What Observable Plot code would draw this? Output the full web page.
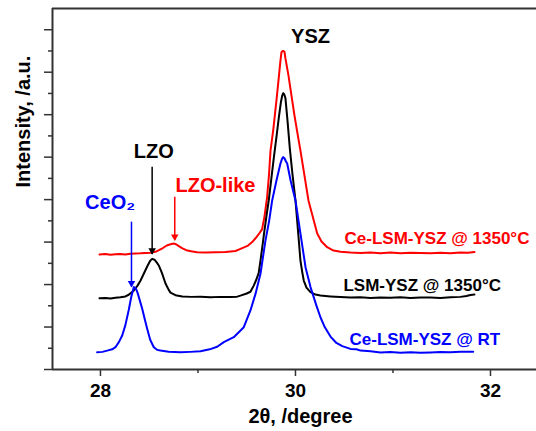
<!DOCTYPE html>
<html>
<head>
<meta charset="utf-8">
<style>
  html, body { margin: 0; padding: 0; background: #fff; }
</style>
<script src="https://cdn.jsdelivr.net/npm/d3@7"></script>
<script src="https://cdn.jsdelivr.net/npm/@observablehq/plot@0.6"></script>
</head>
<body>
<div id="chart"></div>
<script>
// ---- Data (2θ in degrees, intensity in arbitrary units) ----
const seriesNames = ["Ce-LSM-YSZ @ 1350°C", "LSM-YSZ @ 1350°C", "Ce-LSM-YSZ @ RT"];

const ce1350X = [27.990, 28.050, 28.103, 28.154, 28.205, 28.256, 28.308, 28.359, 28.410, 28.462, 28.513, 28.564, 28.600, 28.640, 28.680, 28.718, 28.749, 28.775, 28.800, 28.841, 28.880, 28.930, 28.990, 29.077, 29.179, 29.282, 29.385, 29.436, 29.508, 29.556, 29.590, 29.621, 29.657, 29.682, 29.709, 29.728, 29.744, 29.774, 29.805, 29.831, 29.846, 29.856, 29.864, 29.872, 29.887, 29.897, 29.928, 29.959, 29.990, 30.021, 30.051, 30.092, 30.133, 30.174, 30.223, 30.267, 30.325, 30.390, 30.462, 30.564, 30.667, 30.769, 30.872, 30.974, 31.077, 31.179, 31.282, 31.385, 31.487, 31.590, 31.692, 31.770, 31.836];
const ce1350Y = [5.42, 5.44, 5.40, 5.43, 5.44, 5.42, 5.45, 5.46, 5.47, 5.49, 5.50, 5.54, 5.62, 5.72, 5.84, 5.90, 5.93, 5.90, 5.82, 5.70, 5.62, 5.57, 5.52, 5.51, 5.52, 5.53, 5.58, 5.68, 5.82, 6.00, 6.18, 6.36, 6.60, 7.20, 8.11, 9.14, 10.31, 11.35, 12.67, 13.85, 14.55, 14.93, 14.98, 15.00, 14.97, 14.65, 13.85, 12.90, 11.96, 11.11, 10.31, 9.14, 7.96, 7.25, 6.40, 6.03, 5.76, 5.60, 5.55, 5.51, 5.49, 5.51, 5.48, 5.51, 5.48, 5.50, 5.49, 5.47, 5.50, 5.48, 5.51, 5.50, 5.53];

const lsm1350X = [27.990, 28.050, 28.103, 28.154, 28.205, 28.256, 28.290, 28.342, 28.380, 28.410, 28.444, 28.479, 28.510, 28.530, 28.554, 28.580, 28.598, 28.630, 28.667, 28.700, 28.718, 28.769, 28.840, 28.930, 29.026, 29.128, 29.231, 29.333, 29.402, 29.436, 29.500, 29.538, 29.572, 29.600, 29.623, 29.641, 29.662, 29.682, 29.703, 29.726, 29.754, 29.780, 29.805, 29.830, 29.851, 29.864, 29.874, 29.885, 29.897, 29.918, 29.942, 29.969, 30.000, 30.031, 30.051, 30.069, 30.085, 30.113, 30.154, 30.205, 30.256, 30.359, 30.462, 30.564, 30.667, 30.769, 30.872, 30.974, 31.077, 31.179, 31.282, 31.385, 31.487, 31.590, 31.692, 31.754, 31.795, 31.836];
const lsm1350Y = [3.35, 3.37, 3.34, 3.38, 3.40, 3.44, 3.52, 3.72, 3.95, 4.18, 4.51, 4.85, 5.12, 5.21, 5.17, 5.02, 4.90, 4.55, 4.05, 3.75, 3.62, 3.50, 3.44, 3.42, 3.43, 3.40, 3.42, 3.41, 3.43, 3.48, 3.58, 3.66, 3.95, 4.25, 4.55, 5.13, 5.85, 6.55, 7.25, 7.96, 9.05, 10.05, 10.95, 11.90, 12.60, 12.90, 13.01, 12.95, 12.78, 11.73, 10.41, 9.20, 7.96, 6.26, 5.13, 4.60, 4.19, 3.86, 3.64, 3.53, 3.48, 3.44, 3.41, 3.39, 3.40, 3.37, 3.39, 3.38, 3.40, 3.37, 3.39, 3.39, 3.37, 3.40, 3.42, 3.46, 3.51, 3.53];

const ceRTX = [27.966, 28.020, 28.069, 28.120, 28.154, 28.190, 28.223, 28.256, 28.290, 28.315, 28.342, 28.362, 28.380, 28.410, 28.428, 28.455, 28.479, 28.510, 28.547, 28.580, 28.615, 28.700, 28.821, 28.920, 29.026, 29.120, 29.197, 29.265, 29.367, 29.470, 29.538, 29.590, 29.641, 29.692, 29.730, 29.761, 29.805, 29.846, 29.862, 29.874, 29.887, 29.900, 29.915, 29.950, 30.000, 30.051, 30.103, 30.154, 30.215, 30.256, 30.300, 30.359, 30.420, 30.480, 30.564, 30.626, 30.667, 30.769, 30.872, 30.974, 31.077, 31.179, 31.282, 31.385, 31.487, 31.590, 31.692, 31.823];
const ceRTY = [0.81, 0.83, 0.89, 0.95, 1.05, 1.30, 1.60, 2.10, 2.80, 3.40, 3.88, 3.82, 3.62, 3.15, 2.86, 2.35, 1.92, 1.40, 1.05, 0.93, 0.89, 0.84, 0.81, 0.83, 0.86, 0.95, 1.07, 1.29, 1.52, 1.99, 2.78, 3.56, 4.51, 6.07, 7.00, 7.96, 8.90, 9.70, 9.92, 10.00, 9.95, 9.82, 9.70, 8.90, 7.96, 6.40, 4.82, 3.88, 3.01, 2.46, 2.00, 1.55, 1.25, 1.10, 0.97, 0.95, 0.89, 0.86, 0.80, 0.82, 0.79, 0.81, 0.79, 0.80, 0.82, 0.81, 0.84, 0.84];

// Series labels placed in data coordinates
const seriesLabelX = [30.503, 30.492, 30.554];
const seriesLabelY = [6.17, 3.93, 1.41];

// Peak annotations (centred labels)
const peakNames = ["YSZ", "LZO", "CeO₂"];
const peakLabelX = [30.154, 28.547, 28.099];
const peakLabelY = [15.68, 10.28, 7.88];
// Left-aligned peak annotation
const likeName = ["LZO-like"];
const likeLabelX = [28.769];
const likeLabelY = [8.66];

// Arrows pointing at secondary peaks (LZO, LZO-like, CeO2)
const arrowX = [28.530, 28.762, 28.318];
const arrowFromY = [9.53, 8.11, 6.94];
const arrowToY = [5.42, 6.07, 3.88];

// Axes
const xDomain = [27.508, 32.472];
const yDomain = [0, 17];
const xMajorTicks = [28, 30, 32];
const xMinorTicks = [29, 31];
const yMajorTicks = [0, 2, 4, 6, 8, 10, 12, 14, 16];
const yMinorTicks = [1, 3, 5, 7, 9, 11, 13, 15];
const xTitle = "2θ, /degree";
const yTitle = "Intensity, /a.u.";

// ---- Build ----
const colors = ["#ff0000", "#000000", "#0000ff"];
const toRows = (xs, ys) => xs.map((x, i) => ({x, y: ys[i]}));
const curves = [toRows(ce1350X, ce1350Y), toRows(lsm1350X, lsm1350Y), toRows(ceRTX, ceRTY)];
const seriesLabels = seriesNames.map((name, i) => ({name, x: seriesLabelX[i], y: seriesLabelY[i], color: colors[i]}));
const peakColors = ["#000000", "#000000", "#0000ff"];
const peaks = peakNames.map((name, i) => ({name, x: peakLabelX[i], y: peakLabelY[i], color: peakColors[i]}));
const likeRows = likeName.map((name, i) => ({name, x: likeLabelX[i], y: likeLabelY[i]}));
const arrowColors = ["#000000", "#ff0000", "#0000ff"];
const arrows = arrowX.map((x, i) => ({x, y1: arrowFromY[i], y2: arrowToY[i], color: arrowColors[i]}));

const font = '"Liberation Sans", Arial, Helvetica, sans-serif';

const chart = Plot.plot({
  width: 536,
  height: 431,
  marginLeft: 52,
  marginRight: 0,
  marginTop: 8,
  marginBottom: 62,
  style: {fontFamily: font, background: "#fff", color: "#000"},
  x: {domain: xDomain},
  y: {domain: yDomain},
  marks: [
    Plot.axisY(yMajorTicks, {tickSize: 8, tickFormat: () => "", label: null, stroke: "#333", strokeWidth: 1.5}),
    Plot.axisY(yMinorTicks, {tickSize: 4, tickFormat: () => "", label: null, stroke: "#333", strokeWidth: 1.5}),
    Plot.axisX(xMajorTicks, {tickSize: 7, tickPadding: 7, fontSize: 19, fontWeight: "bold", label: null, stroke: "#333", strokeWidth: 1.5, fill: "#000"}),
    Plot.axisX(xMinorTicks, {tickSize: 4, tickFormat: () => "", label: null, stroke: "#333", strokeWidth: 1.5}),
    Plot.ruleY([yDomain[1]], {stroke: "#333", strokeWidth: 2}),
    Plot.ruleY([yDomain[0]], {stroke: "#333", strokeWidth: 2}),
    Plot.ruleX([xDomain[0]], {stroke: "#333", strokeWidth: 2}),
    ...curves.map((rows, i) => Plot.line(rows, {x: "x", y: "y", stroke: colors[i], strokeWidth: 2})),
    Plot.ruleX(arrows, {x: "x", y1: "y1", y2: "y2", stroke: "color", strokeWidth: 1.5}),
    Plot.dot(arrows, {x: "x", y: "y2", symbol: "triangle", r: 2.8, rotate: 180, dy: -4, fill: "color", stroke: "none"}),
    Plot.text(peaks, {x: "x", y: "y", text: "name", fill: "color", textAnchor: "middle", fontSize: 20, fontWeight: "bold", lineAnchor: "middle"}),
    Plot.text(likeRows, {x: "x", y: "y", text: "name", fill: "#ff0000", textAnchor: "start", fontSize: 20, fontWeight: "bold", lineAnchor: "middle"}),
    Plot.text(seriesLabels, {x: "x", y: "y", text: "name", fill: "color", textAnchor: "start", fontSize: 17, fontWeight: "bold", lineAnchor: "middle"}),
    Plot.text([xTitle], {frameAnchor: "bottom", dy: 47, dx: 6, fontSize: 20, fontWeight: "bold", lineAnchor: "middle", fill: "#000"}),
    Plot.text([yTitle], {frameAnchor: "left", dx: -29, dy: -1.5, rotate: -90, fontSize: 20, fontWeight: "bold", lineAnchor: "middle", fill: "#000"})
  ]
});

document.getElementById("chart").appendChild(chart);
</script>
</body>
</html>
